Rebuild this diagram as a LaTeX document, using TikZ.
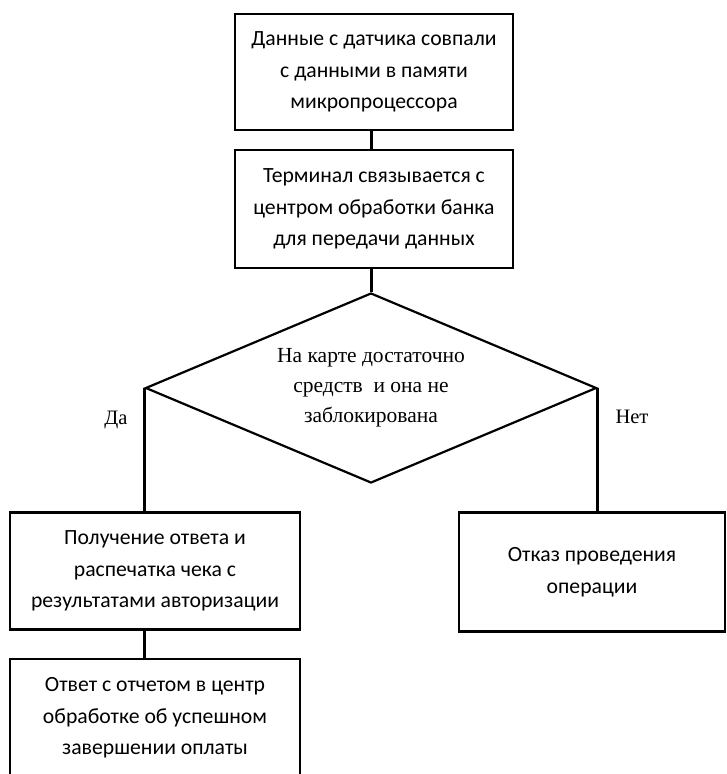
\documentclass[tikz,border=0pt]{standalone}
\usepackage{fontspec}
\setmainfont{Carlito}
\newfontfamily\timesru{Liberation Serif}
\usetikzlibrary{shapes,positioning,calc}

\begin{document}
\begin{tikzpicture}[x=1pt,y=-1pt,
    box/.style={draw, line width=2.8pt, align=center, font=\fontsize{21.7}{31.5}\selectfont},
    link/.style={line width=3pt}]
  \useasboundingbox (0,0) rectangle (727,774);
  \clip (0,0) rectangle (727,774);

  \node[box, minimum width=278pt, minimum height=116pt] (data) at (374,72) {Данные с датчика совпали\\с данными в памяти\\микропроцессора};
  \node[box, minimum width=278pt, minimum height=118pt] (term) at (374,209) {Терминал связывается с\\центром обработки банка\\для передачи данных};
  \node[draw, diamond, aspect=2.37, inner sep=0pt, minimum width=451pt, minimum height=190pt,
        line width=2.2pt, align=center, font=\timesru\fontsize{21.5}{30}\selectfont] (check) at (371,388)
        {На карте достаточно\\средств\ \ и она не\\заблокирована};
  \node[box, minimum width=290pt, minimum height=117pt] (ok) at (155,571) {Получение ответа и\\распечатка чека с\\результатами авторизации};
  \node[box, minimum width=290pt, minimum height=118pt] (report) at (155,718) {Ответ с отчетом в центр\\обработке об успешном\\завершении оплаты};
  \node[box, minimum width=266pt, minimum height=119pt] (refuse) at (592,572) {Отказ проведения\\операции};

  \node[font=\timesru\fontsize{20.5}{24}\selectfont] (yes) at (116,420) {Да};
  \node[font=\timesru\fontsize{20.5}{24}\selectfont] (no) at (632,417) {Нет};

  \draw[link] (data.south -| check.north) -- (term.north -| check.north);
  \draw[link] (term.south -| check.north) -- (check.north);
  \draw[link] (check.west) -- (check.west |- ok.north);
  \draw[link] (check.east) -- (check.east |- refuse.north);
  \draw[link] (ok.south -| check.west) -- (report.north -| check.west);
\end{tikzpicture}
\end{document}
